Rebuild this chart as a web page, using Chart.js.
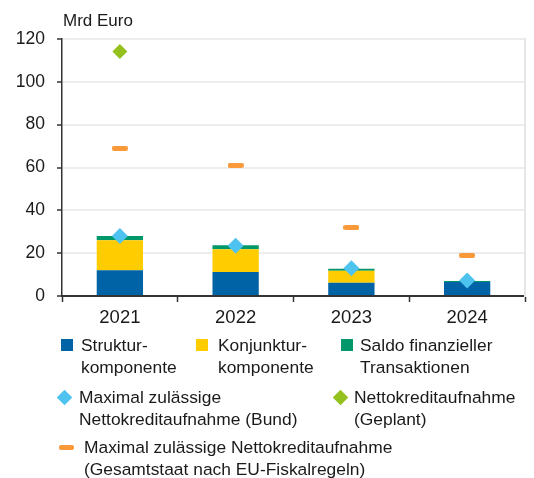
<!DOCTYPE html>
<html>
<head>
<meta charset="utf-8">
<script src="https://cdn.jsdelivr.net/npm/chart.js@4"></script>
<style>
  html, body { margin: 0; padding: 0; background: #fff; }
  #wrap { position: relative; width: 534px; height: 478px; font-family: "Liberation Sans", Arial, sans-serif; color: #1a1a1a; }
  canvas { position: absolute; left: 0; top: 0; }
  .t { position: absolute; font-size: 17.4px; line-height: 22px; white-space: nowrap; }
  .sq { position: absolute; width: 12px; height: 12px; }
  .dm { position: absolute; width: 11px; height: 11px; transform: rotate(45deg); }
  .dash { position: absolute; width: 15px; height: 5px; border-radius: 2px; }
</style>
</head>
<body>
<div id="wrap">
  <canvas id="c" width="534" height="478"></canvas>
  <div class="t" style="left:63px; top:10px; font-size:17px;">Mrd Euro</div>

  <div class="sq" style="left:61px; top:339px; background:#0063a6;"></div>
  <div class="t" style="left:81px; top:334px;">Struktur-<br>komponente</div>
  <div class="sq" style="left:196px; top:339px; background:#ffcc00;"></div>
  <div class="t" style="left:218px; top:334px;">Konjunktur-<br>komponente</div>
  <div class="sq" style="left:341px; top:339px; background:#00976b;"></div>
  <div class="t" style="left:360px; top:334px;">Saldo finanzieller<br>Transaktionen</div>

  <div class="dm" style="left:58.5px; top:391.5px; background:#4fc3f0;"></div>
  <div class="t" style="left:79px; top:386px;">Maximal zulässige<br>Nettokreditaufnahme (Bund)</div>
  <div class="dm" style="left:334.5px; top:391.5px; background:#95c11f;"></div>
  <div class="t" style="left:354px; top:386px;">Nettokreditaufnahme<br>(Geplant)</div>

  <div class="dash" style="left:59px; top:444.5px; background:#f9993a;"></div>
  <div class="t" style="left:84px; top:436px;">Maximal zulässige Nettokreditaufnahme<br>(Gesamtstaat nach EU-Fiskalregeln)</div>
</div>
<script>
const categories = ['2021', '2022', '2023', '2024'];
const strukturkomponente = [12.0, 11.2, 6.2, 6.5];
const konjunkturkomponente = [14.0, 10.6, 5.6, 0];
const saldoFinanziellerTransaktionen = [2.0, 1.9, 0.9, 0.5];
const maxNettokreditBund = [28.0, 23.5, 13.0, 7.2];
const nettokreditGeplant = [114.2, null, null, null];
const maxNettokreditEU = [69.0, 61.0, 32.0, 19.0];
const yTickValues = [0, 20, 40, 60, 80, 100, 120];

// orange dash marker image
const dash = document.createElement('canvas');
dash.width = 16; dash.height = 5;
{
  const g = dash.getContext('2d');
  g.fillStyle = '#f9993a';
  g.beginPath();
  g.roundRect(0, 0, 16, 5, 2);
  g.fill();
}

const FONT = "'Liberation Sans', Arial, sans-serif";

new Chart(document.getElementById('c'), {
  data: {
    labels: categories,
    datasets: [
      { type: 'line', label: 'Maximal zulässige Nettokreditaufnahme (Bund)', data: maxNettokreditBund, stack: 's1', order: 0,
        showLine: false, pointStyle: 'rectRot', pointRadius: 8, pointBackgroundColor: '#4fc3f0', pointBorderWidth: 0, borderColor: '#4fc3f0' },
      { type: 'line', label: 'Nettokreditaufnahme (Geplant)', data: nettokreditGeplant, stack: 's2', order: 0,
        showLine: false, pointStyle: 'rectRot', pointRadius: 7.5, pointBackgroundColor: '#95c11f', pointBorderWidth: 0, borderColor: '#95c11f' },
      { type: 'line', label: 'Maximal zulässige Nettokreditaufnahme (Gesamtstaat nach EU-Fiskalregeln)', data: maxNettokreditEU, stack: 's3', order: 0,
        showLine: false, pointStyle: dash, pointRadius: 8, borderColor: '#f9993a' },
      { type: 'bar', label: 'Strukturkomponente', data: strukturkomponente, backgroundColor: '#0063a6', stack: 'bars', order: 1 },
      { type: 'bar', label: 'Konjunkturkomponente', data: konjunkturkomponente, backgroundColor: '#ffcc00', stack: 'bars', order: 1 },
      { type: 'bar', label: 'Saldo finanzieller Transaktionen', data: saldoFinanziellerTransaktionen, backgroundColor: '#00976b', stack: 'bars', order: 1 }
    ]
  },
  options: {
    responsive: false,
    animation: false,
    layout: { padding: { left: 0, right: 8, top: 39, bottom: 0 } },
    datasets: { bar: { categoryPercentage: 1.0, barPercentage: 0.4 } },
    plugins: { legend: { display: false }, tooltip: { enabled: false } },
    scales: {
      x: {
        stacked: true,
        offset: true,
        grid: { offset: true, drawOnChartArea: false, drawTicks: true, tickLength: 6, tickColor: '#333', tickWidth: 1.5 },
        border: { color: '#333', width: 2 },
        ticks: { font: { family: FONT, size: 18.5 }, color: '#1a1a1a', padding: 5 },
        afterFit: s => { s.height = 182; }
      },
      y: {
        stacked: true,
        min: 0, max: 120,
        afterBuildTicks: s => { s.ticks = yTickValues.map(v => ({ value: v })); },
        grid: { color: '#ededed', lineWidth: 2, tickLength: 5, tickColor: '#333', tickWidth: 1.5 },
        border: { color: '#333', width: 1.5 },
        ticks: { font: { family: FONT, size: 17.5 }, color: '#1a1a1a', padding: 12 },
        afterFit: s => { s.width = 62; }
      },
      yR: {
        position: 'right',
        display: true,
        grid: { drawOnChartArea: false, drawTicks: false },
        border: { color: '#e6e6e6', width: 2 },
        ticks: { display: false },
        afterFit: s => { s.width = 0; }
      }
    }
  }
});
</script>
</body>
</html>
